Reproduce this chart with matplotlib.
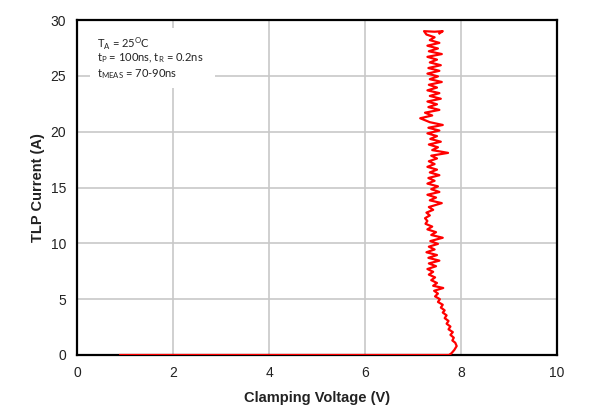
import matplotlib
matplotlib.use("Agg")
import matplotlib.pyplot as plt
from matplotlib.patches import Rectangle

plt.rcParams['font.family'] = ['Liberation Sans', 'DejaVu Sans']

voltage = [0.9, 7.75, 7.8, 7.86, 7.91, 7.88, 7.82, 7.85, 7.78, 7.83, 7.74, 7.78, 7.70, 7.74, 7.66,
           7.70, 7.62, 7.66, 7.58, 7.62, 7.52, 7.56, 7.46, 7.52, 7.44, 7.63, 7.42, 7.50, 7.38, 7.46,
           7.33, 7.42, 7.30, 7.48, 7.33, 7.55, 7.32, 7.50, 7.28, 7.45, 7.33, 7.52, 7.36, 7.62, 7.38,
           7.48, 7.30, 7.40, 7.26, 7.30, 7.25, 7.35, 7.28, 7.42, 7.33, 7.60, 7.35, 7.48, 7.30, 7.55,
           7.38, 7.52, 7.30, 7.45, 7.32, 7.55, 7.35, 7.50, 7.30, 7.45, 7.33, 7.50, 7.38, 7.73, 7.40,
           7.52, 7.33, 7.58, 7.36, 7.50, 7.30, 7.55, 7.32, 7.62, 7.35, 7.15, 7.40, 7.25, 7.55, 7.32,
           7.50, 7.30, 7.58, 7.35, 7.55, 7.30, 7.50, 7.33, 7.60, 7.35, 7.52, 7.30, 7.55, 7.32, 7.58,
           7.35, 7.50, 7.30, 7.60, 7.33, 7.52, 7.30, 7.55, 7.35, 7.45, 7.28, 7.23, 7.45, 7.62, 7.55]
current = [0.0, 0.0, 0.15, 0.45, 0.8, 1.1, 1.3, 1.55, 1.8, 2.05, 2.3, 2.55, 2.8, 3.05, 3.3,
           3.55, 3.8, 4.0, 4.25, 4.5, 4.75, 5.0, 5.25, 5.5, 5.75, 6.0, 6.2, 6.45, 6.7, 6.95,
           7.2, 7.45, 7.7, 7.95, 8.2, 8.45, 8.7, 8.95, 9.2, 9.45, 9.7, 9.95, 10.2, 10.5, 10.75,
           11.0, 11.25, 11.5, 11.75, 12.0, 12.25, 12.5, 12.75, 13.0, 13.25, 13.6, 13.85, 14.1, 14.35, 14.6,
           14.85, 15.1, 15.35, 15.6, 15.85, 16.1, 16.35, 16.6, 16.85, 17.1, 17.35, 17.6, 17.85, 18.1, 18.35,
           18.6, 18.85, 19.1, 19.35, 19.6, 19.85, 20.1, 20.35, 20.6, 20.85, 21.2, 21.45, 21.7, 21.95, 22.2,
           22.45, 22.7, 22.95, 23.2, 23.45, 23.7, 23.95, 24.2, 24.45, 24.7, 24.95, 25.2, 25.45, 25.7, 25.95,
           26.2, 26.45, 26.7, 26.95, 27.2, 27.45, 27.7, 27.95, 28.2, 28.45, 28.7, 29.0, 28.95, 29.0, 28.8]

x_ticks = [0, 2, 4, 6, 8, 10]
y_ticks = [0, 5, 10, 15, 20, 25, 30]
annotation_lines = [r"$\mathregular{T_A}$ = 25$\mathregular{^O}$C",
                    r"$\mathregular{t_P}$ = 100ns, $\mathregular{t_R}$ = 0.2ns",
                    r"$\mathregular{t_{MEAS}}$ = 70-90ns"]

fig = plt.figure(figsize=(6.0, 4.17), dpi=100)
ax = fig.add_axes([77/600, 1-355/417, 480/600, 335/417])
ax.set_xlim(0, 10)
ax.set_ylim(0, 30)
ax.set_xticks(x_ticks)
ax.set_yticks(y_ticks)
ax.grid(True, color='#c8c8c8', linewidth=1.2)
ax.set_axisbelow(True)
ax.tick_params(length=0, labelsize=10, pad=8, colors='#222222')
for s in ax.spines.values():
    s.set_linewidth(1.6)
    s.set_color('black')

ax.add_patch(Rectangle((0.27, 23.9), 2.6, 5.4, facecolor='white', edgecolor='none', zorder=2))
for line, ypos in zip(annotation_lines, [27.9, 26.55, 25.2]):
    ax.text(0.42, ypos, line, fontsize=8, va='center', ha='left',
            family=['Lato', 'DejaVu Sans'], zorder=3, color='#222222')

ax.plot(voltage, current, color='#ff0000', linewidth=1.6, zorder=4, solid_joinstyle='round')

ax.set_xlabel("Clamping Voltage (V)", fontsize=10.5, fontweight='bold', labelpad=8, color='#222222')
ax.set_ylabel("TLP Current (A)", fontsize=10.5, fontweight='bold', labelpad=4, color='#222222')

fig.savefig("out.png", dpi=100)
